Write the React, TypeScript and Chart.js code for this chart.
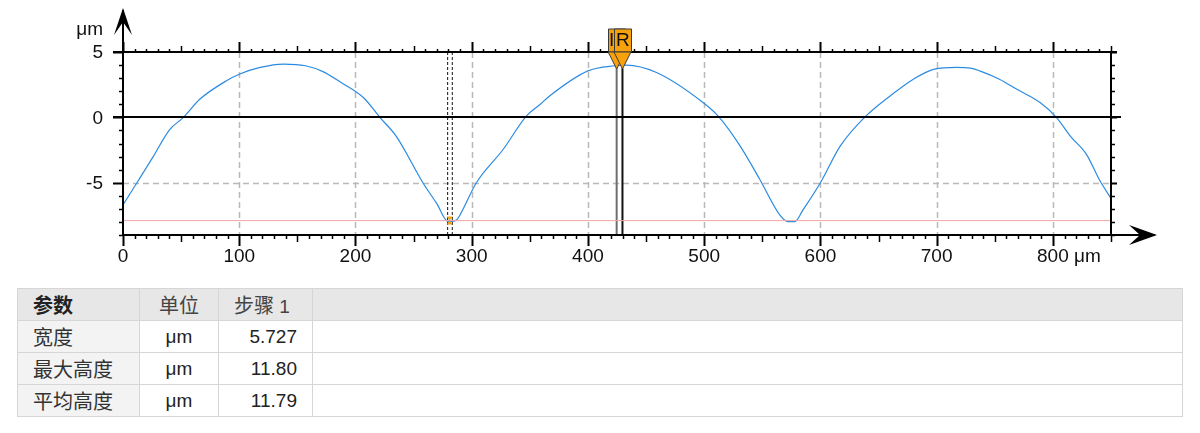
import React, { useEffect, useRef } from "react";
import { Chart, registerables } from "chart.js";

Chart.register(...registerables);

// ---- data ----
const profileX = [0, 12, 26, 40, 52, 66, 89, 100, 118, 138, 157, 172, 187, 207, 221, 235, 258, 270, 279.5, 283, 287, 290, 304, 327, 347, 359, 367, 400, 423, 433, 459, 499, 513, 531, 548, 565, 572, 578, 585, 600, 617, 638, 660, 680, 698, 717, 729, 737, 754, 769, 789, 803, 815, 829, 840, 850];
const profileY = [-6.7, -5.0, -3.0, -0.95, 0, 1.38, 2.8, 3.3, 3.82, 4.08, 3.95, 3.5, 2.7, 1.5, 0, -1.44, -5.0, -6.6, -7.95, -7.95, -7.85, -7.46, -5.0, -2.46, 0.1, 1.0, 1.64, 3.56, 3.95, 4.0, 3.43, 1.13, 0, -2.2, -4.77, -7.46, -7.97, -7.97, -7.08, -5.0, -2.2, 0, 1.64, 2.92, 3.69, 3.82, 3.77, 3.56, 2.92, 2.15, 1.13, 0, -1.44, -2.85, -4.77, -6.2];

const refLevel = -7.9;
const xMin = 0;
const xMax = 850;
const yMin = -9;
const yMax = 5;
const xTickValues = [0, 100, 200, 300, 400, 500, 600, 700, 800];
const xTickLabels = ["0", "100", "200", "300", "400", "500", "600", "700", "800"];
const xUnit = "μm";
const yTickValues = [-5, 0, 5];
const yTickLabels = ["-5", "0", "5"];
const yUnit = "μm";
const dashedCursors = [279.3, 283.3];
const solidCursors = [424.7, 429.7];
const cursorNames = ["I", "R"];
const cursorTop = 3.75;
const minMarkerX = 281;
const minMarkerY = -7.9;

const tableHeaders = ["参数", "单位", "步骤 1"];
const tableParams = ["宽度", "最大高度", "平均高度"];
const tableUnits = ["μm", "μm", "μm"];
const tableValues = ["5.727", "11.80", "11.79"];

const FONT = '"Liberation Sans", Arial, sans-serif';
const ORANGE = "#f7a20c";

const axesPlugin = {
  id: "profileAxes",
  beforeDatasetsDraw(chart: any) {
    const { ctx, chartArea: a } = chart;
    const xs = chart.scales.x;
    const ys = chart.scales.y;
    ctx.save();
    ctx.strokeStyle = "#b9b9b9";
    ctx.lineWidth = 1.5;
    ctx.setLineDash([6, 4]);
    xTickValues.forEach((v) => {
      if (v === xMin) return;
      const px = Math.round(xs.getPixelForValue(v)) + 0.5;
      ctx.beginPath();
      ctx.moveTo(px, a.top);
      ctx.lineTo(px, a.bottom);
      ctx.stroke();
    });
    yTickValues.forEach((v) => {
      if (v === 0 || v === yMax) return;
      const py = Math.round(ys.getPixelForValue(v)) + 0.5;
      ctx.beginPath();
      ctx.moveTo(a.left, py);
      ctx.lineTo(a.right, py);
      ctx.stroke();
    });
    ctx.setLineDash([]);
    ctx.restore();
  },
  afterDatasetsDraw(chart: any) {
    const { ctx, chartArea: a } = chart;
    const xs = chart.scales.x;
    const ys = chart.scales.y;
    ctx.save();
    ctx.strokeStyle = "#000";
    ctx.fillStyle = "#000";
    const y0 = Math.round(ys.getPixelForValue(0));
    ctx.lineWidth = 2;
    ctx.beginPath();
    ctx.moveTo(a.left - 10, y0);
    ctx.lineTo(a.right + 10, y0);
    ctx.stroke();
    ctx.beginPath();
    ctx.moveTo(a.left - 10, a.top);
    ctx.lineTo(a.right + 6, a.top);
    ctx.stroke();
    ctx.beginPath();
    ctx.moveTo(a.right, a.top);
    ctx.lineTo(a.right, a.bottom);
    ctx.stroke();
    ctx.beginPath();
    ctx.moveTo(a.left - 1, a.bottom);
    ctx.lineTo(a.right + 44, a.bottom);
    ctx.stroke();
    const ax = a.right + 46;
    ctx.beginPath();
    ctx.moveTo(ax, a.bottom);
    ctx.lineTo(ax - 28, a.bottom - 10);
    ctx.lineTo(ax - 17, a.bottom);
    ctx.lineTo(ax - 28, a.bottom + 10);
    ctx.closePath();
    ctx.fill();
    ctx.beginPath();
    ctx.moveTo(a.left, a.bottom + 1);
    ctx.lineTo(a.left, a.top - 42);
    ctx.stroke();
    const ay = a.top - 44;
    ctx.beginPath();
    ctx.moveTo(a.left, ay);
    ctx.lineTo(a.left - 9, ay + 27);
    ctx.lineTo(a.left, ay + 14);
    ctx.lineTo(a.left + 9, ay + 27);
    ctx.closePath();
    ctx.fill();

    for (let v = xMin; v <= xMax; v += 10) {
      const px = Math.round(xs.getPixelForValue(v)) + 0.5;
      const major = v % 100 === 0;
      const mid = v % 50 === 0;
      const lb = major ? 11 : mid ? 7 : 4;
      const lt = major ? 10 : mid ? 6 : 3;
      ctx.lineWidth = major ? 2 : 1.5;
      ctx.beginPath();
      ctx.moveTo(px, a.bottom);
      ctx.lineTo(px, a.bottom + lb);
      ctx.moveTo(px, a.top);
      ctx.lineTo(px, a.top - lt);
      ctx.stroke();
    }
    for (let v = yMin; v <= yMax; v += 1) {
      const py = Math.round(ys.getPixelForValue(v)) + 0.5;
      const major = v % 5 === 0;
      ctx.lineWidth = major ? 2 : 1.5;
      ctx.beginPath();
      ctx.moveTo(a.left, py);
      ctx.lineTo(a.left - (major ? 10 : 4), py);
      ctx.moveTo(a.right, py);
      ctx.lineTo(a.right + (major ? 6 : 4), py);
      ctx.stroke();
    }

    ctx.font = `19px ${FONT}`;
    ctx.fillStyle = "#111";
    ctx.textBaseline = "middle";
    ctx.textAlign = "right";
    yTickValues.forEach((v, i) => {
      ctx.fillText(yTickLabels[i], a.left - 20, ys.getPixelForValue(v) + 1);
    });
    ctx.fillText(yUnit, a.left - 20, a.top - 22);
    xTickValues.forEach((v, i) => {
      const px = xs.getPixelForValue(v);
      if (i === xTickValues.length - 1) {
        const w = ctx.measureText(xTickLabels[i]).width;
        ctx.textAlign = "left";
        ctx.fillText(xTickLabels[i] + " " + xUnit, px - w / 2, a.bottom + 22);
      } else {
        ctx.textAlign = "center";
        ctx.fillText(xTickLabels[i], px, a.bottom + 22);
      }
    });

    const mx = xs.getPixelForValue(minMarkerX);
    const my = ys.getPixelForValue(minMarkerY);
    ctx.fillStyle = ORANGE;
    ctx.beginPath();
    ctx.moveTo(mx - 3, my - 4);
    ctx.lineTo(mx + 3, my - 4);
    ctx.lineTo(mx - 3, my + 4);
    ctx.lineTo(mx + 3, my + 4);
    ctx.closePath();
    ctx.fill();

    solidCursors.forEach((v, i) => {
      const px = xs.getPixelForValue(v);
      ctx.fillStyle = ORANGE;
      ctx.strokeStyle = "#3a3a3a";
      ctx.lineWidth = 1;
      ctx.beginPath();
      ctx.rect(Math.round(px - 8.5) + 0.5, a.top - 23, 17, 23);
      ctx.fill();
      ctx.stroke();
      ctx.beginPath();
      ctx.moveTo(px - 8.5, a.top);
      ctx.lineTo(px + 8.5, a.top);
      ctx.lineTo(px, a.top + 17);
      ctx.closePath();
      ctx.fill();
      ctx.stroke();
      ctx.fillStyle = "#111";
      ctx.font = `19px ${FONT}`;
      ctx.textAlign = "center";
      ctx.textBaseline = "middle";
      ctx.fillText(cursorNames[i], i === 0 ? px - 5 : px + 0.5, a.top - 11);
    });
    ctx.restore();
  },
};

export default function App() {
  const ref = useRef<HTMLCanvasElement | null>(null);
  useEffect(() => {
    const canvas = ref.current;
    if (!canvas) return;
    const curve = profileX.map((x, i) => ({ x, y: profileY[i] }));
    const datasets: any[] = [
      {
        data: [
          { x: xMin, y: refLevel },
          { x: xMax, y: refLevel },
        ],
        borderColor: "#f2a6a6",
        borderWidth: 1,
        pointRadius: 0,
      },
      ...dashedCursors.map((v) => ({
        data: [
          { x: v, y: yMin },
          { x: v, y: yMax },
        ],
        borderColor: "#111",
        borderWidth: 1,
        borderDash: [3, 2],
        pointRadius: 0,
      })),
      ...solidCursors.map((v, i) => ({
        data: [
          { x: v, y: yMin },
          { x: v, y: cursorTop },
        ],
        borderColor: i === 0 ? "#6e6e6e" : "#111",
        borderWidth: 2,
        pointRadius: 0,
      })),
      {
        data: curve,
        borderColor: "#2b8be2",
        borderWidth: 1.2,
        pointRadius: 0,
        cubicInterpolationMode: "monotone",
      },
    ];
    const chart = new Chart(canvas, {
      type: "line",
      data: { datasets },
      options: {
        animation: false,
        responsive: false,
        devicePixelRatio: 1,
        layout: { padding: { left: 123, top: 52, right: 89, bottom: 35 } },
        plugins: { legend: { display: false }, tooltip: { enabled: false } },
        scales: {
          x: { type: "linear", min: xMin, max: xMax, display: false },
          y: { type: "linear", min: yMin, max: yMax, display: false },
        },
      },
      plugins: [axesPlugin],
    });
    return () => chart.destroy();
  }, []);

  const cjk = { fontFamily: '"Noto Sans CJK SC", sans-serif', fontSize: 20, fontWeight: 400 };
  const td: React.CSSProperties = {
    border: "1px solid #d6d6d6",
    padding: 0,
    height: 31,
    fontFamily: FONT,
    fontSize: 19,
    color: "#222",
  };
  const [stepWord, stepNum] = tableHeaders[2].split(" ");
  return (
    <div style={{ position: "absolute", left: 0, top: 0, width: 1200, height: 433, background: "#fff" }}>
      <canvas ref={ref} width={1200} height={270} style={{ position: "absolute", left: 0, top: 0 }} />
      <table
        style={{
          position: "absolute",
          left: 17,
          top: 288,
          width: 1166,
          borderCollapse: "collapse",
          tableLayout: "fixed",
          border: "1px solid #bdbdbd",
        }}
      >
        <colgroup>
          <col style={{ width: 122 }} />
          <col style={{ width: 79 }} />
          <col style={{ width: 94 }} />
          <col />
        </colgroup>
        <tbody>
          <tr style={{ background: "#e7e7e7" }}>
            <td style={{ ...td, paddingLeft: 15 }}>
              <span style={{ ...cjk, fontWeight: 700 }}>{tableHeaders[0]}</span>
            </td>
            <td style={{ ...td, textAlign: "center" }}>
              <span style={{ ...cjk, color: "#444" }}>{tableHeaders[1]}</span>
            </td>
            <td style={{ ...td, paddingLeft: 15, color: "#444" }}>
              <span style={cjk}>{stepWord}</span> {stepNum}
            </td>
            <td style={td}></td>
          </tr>
          {tableParams.map((p, i) => (
            <tr key={p}>
              <td style={{ ...td, paddingLeft: 15, background: "#f3f3f3" }}>
                <span style={{ ...cjk, color: "#333" }}>{p}</span>
              </td>
              <td style={{ ...td, textAlign: "center" }}>{tableUnits[i]}</td>
              <td style={{ ...td, textAlign: "right", paddingRight: 15 }}>{tableValues[i]}</td>
              <td style={td}></td>
            </tr>
          ))}
        </tbody>
      </table>
    </div>
  );
}
